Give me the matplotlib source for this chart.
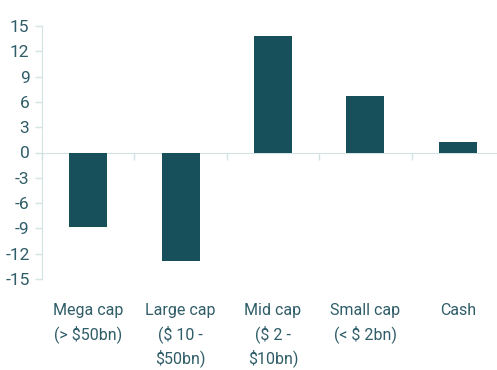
import matplotlib
matplotlib.use("Agg")
from matplotlib import pyplot as plt
import numpy as np

categories = ['Mega cap\n(> $50bn)', 'Large cap\n($ 10 -\n$50bn)', 'Mid cap\n($ 2 -\n$10bn)',
              'Small cap\n(< $ 2bn)', 'Cash']
values = [-8.8, -12.9, 13.8, 6.7, 1.3]
yticks = [15, 12, 9, 6, 3, 0, -3, -6, -9, -12, -15]

plt.rcParams['font.family'] = ['Roboto', 'DejaVu Sans']

bar_col = '#174f5a'
txt_col = '#2f5d68'
line_col = '#d3e2e2'

fig = plt.figure(figsize=(4.97, 3.7), dpi=100)
ax = fig.add_axes([42/497, 91/370, 462/497, 253/370])

x = np.arange(len(values))
ax.bar(x, values, width=0.41, color=bar_col, zorder=3)

ax.set_xlim(-0.5, len(values) - 0.5)
ax.set_ylim(-15, 15)
ax.set_yticks(yticks)
ax.set_yticklabels([str(t) for t in yticks], fontsize=12.5, color=txt_col)
ax.tick_params(axis='y', length=5, width=1, color=line_col, pad=4)

ax.spines['bottom'].set_position(('data', 0))
ax.spines['bottom'].set_color(line_col)
ax.spines['left'].set_color(line_col)
ax.spines['top'].set_visible(False)
ax.spines['right'].set_visible(False)
ax.set_xticks(np.arange(len(values) + 1) - 0.5)
ax.set_xticklabels([])
ax.tick_params(axis='x', length=5, width=1, color=line_col, direction='out')

for xi, lab in zip(x, categories):
    ax.text(xi, -17.9, lab, ha='center', va='top', fontsize=11.5, color=txt_col,
            linespacing=1.45, clip_on=False)

fig.savefig('out.png', dpi=100)
